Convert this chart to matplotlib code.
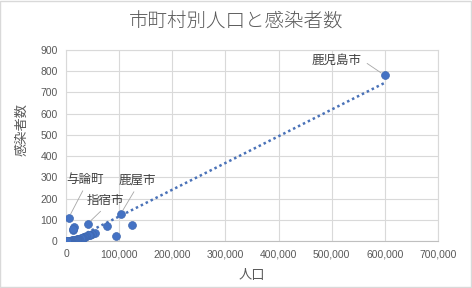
import matplotlib
matplotlib.use("Agg")
import matplotlib.pyplot as plt
import numpy as np
from matplotlib.ticker import FuncFormatter, MultipleLocator
from matplotlib.patches import Rectangle

# ---- data ----
population = [600000, 125000, 103000, 95000, 77000, 41000, 5200, 15500, 12500, 14000,
              54000, 49000, 45000, 43000, 38000, 36000, 34000, 32000, 30000, 28000,
              25000, 22000, 21000, 20000, 18000, 16000, 14500, 13000, 11000, 10000,
              9000, 8000, 7000, 6000, 5000, 4000, 3000, 2500, 2000]
cases = [780, 75, 128, 22, 70, 82, 110, 66, 50, 58,
         36, 32, 30, 26, 24, 20, 18, 16, 14, 13,
         10, 9, 8, 7, 6, 5, 4, 3, 3, 2,
         2, 1, 1, 0, 1, 0, 0, 0, 0]
labels = {0: "鹿児島市", 6: "与論町", 5: "指宿市", 2: "鹿屋市"}
label_pos = {0: (510000, 853), 6: (36700, 292), 5: (74300, 193), 2: (133600, 287)}
label_rel = {0: (1.0, 0.5), 6: (0.5, 0.0), 5: (0.5, 0.0), 2: (0.5, 0.0)}

title = "市町村別人口と感染者数"
xlabel = "人口"
ylabel = "感染者数"

blue = "#4472C4"
grey_text = "#595959"
grid_c = "#d9d9d9"
cjk = ["Noto Sans CJK JP", "DejaVu Sans"]

fig = plt.figure(figsize=(4.72, 2.88), dpi=100)
fig.patch.set_facecolor("white")
ax = fig.add_axes([66/472, 1-241/288, (438-66)/472, (241-50)/288])

ax.scatter(population, cases, s=32, color=blue, edgecolors="#3f68b0", linewidths=0.5, zorder=3)

x = np.array(population, dtype=float)
y = np.array(cases, dtype=float)
m, b = np.polyfit(x, y, 1)
xs = np.array([x.min(), x.max()])
ax.plot(xs, m*xs + b, color="#4a72b8", linestyle=(0, (1, 1.2)), linewidth=1.8, zorder=2)

ax.set_xlim(0, 700000)
ax.set_ylim(0, 900)
ax.xaxis.set_major_locator(MultipleLocator(100000))
ax.yaxis.set_major_locator(MultipleLocator(100))
ax.xaxis.set_major_formatter(FuncFormatter(lambda v, p: f"{int(v):,}"))
ax.grid(True, color=grid_c, linewidth=0.8, zorder=0)
ax.set_axisbelow(True)
for s in ax.spines.values():
    s.set_color(grid_c)
    s.set_linewidth(0.8)
ax.spines["bottom"].set_color("#bfbfbf")
ax.tick_params(length=0, colors=grey_text, labelsize=7.5, pad=6)
for lab in ax.get_xticklabels() + ax.get_yticklabels():
    lab.set_family(["Liberation Sans", "DejaVu Sans"])

for i, txt in labels.items():
    ax.annotate(txt, xy=(population[i], cases[i]), xytext=label_pos[i], textcoords="data",
                ha="center", va="center", fontsize=9, color="#404040", family=cjk,
                arrowprops=dict(arrowstyle="-", color="#a6a6a6", lw=0.6,
                                relpos=label_rel[i], shrinkA=2, shrinkB=3))

fig.text(236/472, 1-22/288, title, ha="center", va="center", fontsize=14,
         color=grey_text, family=cjk, fontweight="light")
fig.text(252/472, 1-276/288, xlabel, ha="center", va="center", fontsize=9.5,
         color=grey_text, family=cjk)
fig.text(22/472, 1-130/288, ylabel, ha="center", va="center", fontsize=9.5,
         color=grey_text, family=cjk, rotation=90)

fig.patches.append(Rectangle((0.001, 0.002), 0.997, 0.995, transform=fig.transFigure,
                             fill=False, edgecolor="#d9d9d9", linewidth=1.0))

fig.savefig("out.png", dpi=100)
